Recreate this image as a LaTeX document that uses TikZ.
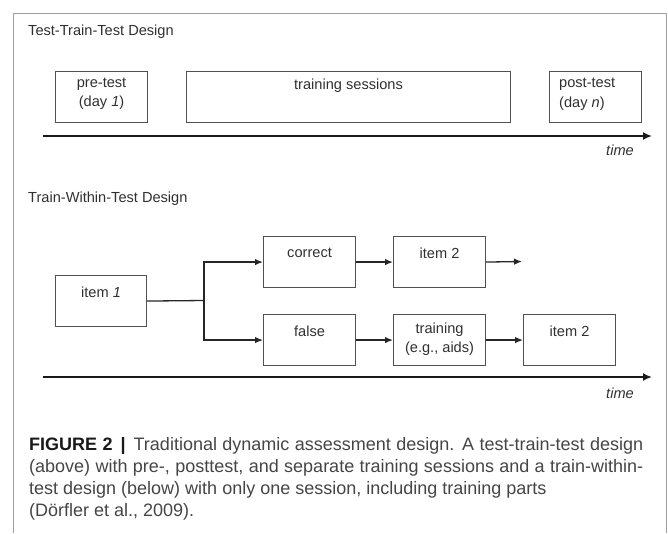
\documentclass[tikz,border=0pt]{standalone}
\usepackage{fontspec}
\setmainfont{Liberation Sans}
\usetikzlibrary{arrows.meta}
\definecolor{framec}{HTML}{A0A0A0}
\definecolor{boxc}{HTML}{505050}
\definecolor{txtc}{HTML}{303030}
\definecolor{capc}{HTML}{454545}
\begin{document}
\begin{tikzpicture}[x=1pt,y=-1pt,
  box/.style={draw=boxc, line width=1.1pt, minimum width=#1, minimum height=51pt, anchor=north west, inner sep=0pt},
  lbl/.style={text=txtc, font=\fontsize{14.6}{17.5}\selectfont, align=center, inner sep=0pt},
  conn/.style={draw=black!85, line width=1.3pt, -{Latex[length=8pt,width=6.5pt]}},
  plain/.style={draw=black!85, line width=1.3pt},
  timeline/.style={draw=black!90, line width=2.6pt, -{Latex[length=9pt,width=8pt]}},
  timelbl/.style={text=txtc, font=\fontsize{14.6}{17.5}\selectfont\itshape, anchor=east, inner sep=0pt},
  caption/.style={text=capc, font=\fontsize{18}{22}\selectfont, anchor=base west, inner sep=0pt}]
\useasboundingbox (0,0) rectangle (668,533);
% frame
\draw[framec, line width=1pt] (13,533) -- (13,13) -- (666,13) -- (666,533);

% ---------- Test-Train-Test ----------
\node[lbl, anchor=west] (title1) at (28,32) {Test-Train-Test Design};
\node[box=92pt] (pre) at (55,71) {};
\node[box=324pt] (train) at (186,70.5) {};
\node[box=92pt] (post) at (549,71) {};
\node[lbl] (pretxt) at ([yshift=-23]pre.north) {pre-test\\[2pt](day \textit{1})};
\node[lbl] (traintxt) at ([yshift=-15]train.north) {training sessions};
\node[lbl, align=left, anchor=north west] (posttxt) at (559,78) {post-test\\[2pt](day \textit{n})};
\coordinate (t1s) at (43,136);
\coordinate (t1e) at (652,136);
\draw[timeline] (t1s) -- (t1e);
\node[timelbl] (time1) at (634,150) {time};

% ---------- Train-Within-Test ----------
\node[lbl, anchor=west] (title2) at (28,199) {Train-Within-Test Design};
\node[box=91pt] (item1) at (55,275) {};
\node[box=92pt] (correct) at (263,236) {};
\node[box=92pt] (item2a) at (393,236) {};
\node[box=92pt] (false) at (263,314) {};
\node[box=92pt] (training) at (393,314) {};
\node[box=92pt] (item2b) at (523,314) {};
\node[lbl] (item1txt) at ([yshift=-17]item1.north) {item \textit{1}};
\node[lbl] (correcttxt) at ([yshift=-17]correct.north) {correct};
\node[lbl] (item2atxt) at ([yshift=-17]item2a.north) {item 2};
\node[lbl] (falsetxt) at ([yshift=-17]false.north) {false};
\node[lbl] (trainingtxt) at ([yshift=-25]training.north) {training\\[2pt](e.g., aids)};
\node[lbl] (item2btxt) at ([yshift=-17]item2b.north) {item 2};

\coordinate (br) at (204,300.5);
\coordinate (out) at (522,261.5);
\draw[plain] (item1.east) -- (br);
\draw[conn] (br) |- (correct.west);
\draw[conn] (br) |- (false.west);
\draw[conn] (correct.east) -- (item2a.west);
\draw[conn] (item2a.east) -- (out);
\draw[conn] (false.east) -- (training.west);
\draw[conn] (training.east) -- (item2b.west);

\coordinate (t2s) at (43,377);
\coordinate (t2e) at (652,377);
\draw[timeline] (t2s) -- (t2e);
\node[timelbl] (time2) at (634,393) {time};

% ---------- caption ----------
\node[caption] (cap1) at (29,450) {\makebox[614pt][s]{\textcolor{black!90}{\textbf{FIGURE 2}}\hspace{8pt}\textcolor{black!90}{\textbf{|}}\hspace{8pt}Traditional dynamic assessment design. A test-train-test design}};
\node[caption] (cap2) at (29,472) {\makebox[614pt][s]{(above) with pre-, posttest, and separate training sessions and a train-within-}};
\node[caption] (cap3) at (29,494) {test design (below) with only one session, including training parts};
\node[caption] (cap4) at (29,516) {(Dörfler et al., 2009).};
\end{tikzpicture}
\end{document}
